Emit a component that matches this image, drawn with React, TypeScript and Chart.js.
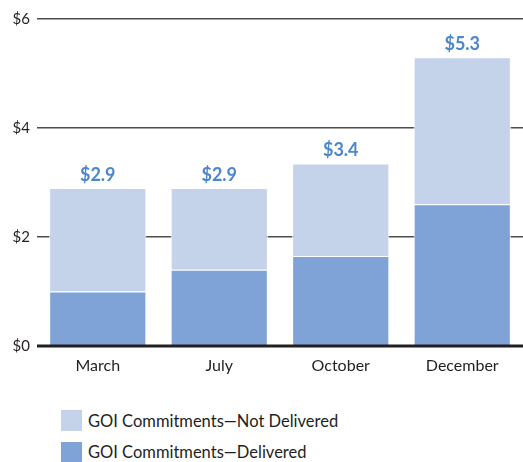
import React, { useEffect, useRef } from "react";
import { Chart, registerables } from "chart.js";

Chart.register(...registerables);

const categories = ["March", "July", "October", "December"];
const delivered = [1.0, 1.4, 1.65, 2.6];
const notDelivered = [1.9, 1.5, 1.7, 2.7];
const totalLabels = ["$2.9", "$2.9", "$3.4", "$5.3"];
const yTicks = [0, 2, 4, 6];
const seriesNames = ["GOI Commitments\u2014Not Delivered", "GOI Commitments\u2014Delivered"];

const LIGHT = "#c4d2ea";
const DARK = "#7fa3d6";
const TEXT = "#231f20";
const LABEL_BLUE = "#4b87c9";
const FONT = "Lato, 'Liberation Sans', sans-serif";

export default function App() {
  const ref = useRef<HTMLCanvasElement | null>(null);

  useEffect(() => {
    document.body.style.margin = "0";
    const totalsPlugin = {
      id: "totals",
      afterDatasetsDraw(chart: any) {
        const ctx = chart.ctx;
        const y = chart.scales.y;
        ctx.save();
        ctx.strokeStyle = "#231f20";
        ctx.lineWidth = 3;
        const y0 = y.getPixelForValue(0);
        ctx.beginPath();
        ctx.moveTo(chart.chartArea.left, y0);
        ctx.lineTo(chart.chartArea.right, y0);
        ctx.stroke();
        const meta = chart.getDatasetMeta(1);
        ctx.fillStyle = LABEL_BLUE;
        ctx.font = `bold 18px ${FONT}`;
        ctx.textAlign = "center";
        ctx.textBaseline = "bottom";
        meta.data.forEach((bar: any, i: number) => {
          ctx.fillText(totalLabels[i], bar.x, bar.y - 4);
        });
        ctx.restore();
      },
    };

    const chart = new Chart(ref.current as HTMLCanvasElement, {
      type: "bar",
      data: {
        labels: categories,
        datasets: [
          {
            label: seriesNames[1],
            data: delivered,
            backgroundColor: DARK,
            borderColor: "#ffffff",
            borderWidth: 1,
            categoryPercentage: 0.8,
            barPercentage: 1,
          },
          {
            label: seriesNames[0],
            data: notDelivered,
            backgroundColor: LIGHT,
            borderColor: "#ffffff",
            borderWidth: 1,
            categoryPercentage: 0.8,
            barPercentage: 1,
          },
        ],
      },
      options: {
        animation: false,
        responsive: false,
        maintainAspectRatio: false,
        layout: { padding: { top: 19, right: 0, left: 0, bottom: 0 } },
        plugins: { legend: { display: false }, tooltip: { enabled: false } },
        scales: {
          x: {
            stacked: true,
            grid: { display: false },
            border: { display: false },
            afterFit(axis: any) {
              axis.height = 34;
            },
            ticks: { color: TEXT, font: { family: FONT, size: 16 }, padding: 2 },
          },
          y: {
            stacked: true,
            min: 0,
            max: 6,
            afterBuildTicks(axis: any) {
              axis.ticks = yTicks.map((v) => ({ value: v }));
            },
            afterFit(axis: any) {
              axis.width = 37;
            },
            grid: {
              drawTicks: false,
              color: (c: any) => (c.tick && c.tick.value === 0 ? "rgba(0,0,0,0)" : "#4d4d4d"),
              lineWidth: 1.5,
            },
            border: { display: false },
            ticks: {
              color: TEXT,
              font: { family: FONT, size: 15 },
              padding: 7,
              callback: (v: any) => "$" + v,
            },
          },
        },
      },
      plugins: [totalsPlugin],
    });
    return () => chart.destroy();
  }, []);

  const colors = [LIGHT, DARK];
  return (
    <div style={{ position: "relative", width: 523, height: 462, fontFamily: FONT }}>
      <canvas ref={ref} width={523} height={380} style={{ display: "block" }} />
      {seriesNames.map((name, i) => (
        <div
          key={name}
          style={{
            position: "absolute",
            left: 61,
            top: 410 + i * 31.5,
            display: "flex",
            alignItems: "center",
            color: TEXT,
            fontSize: 16.5,
            whiteSpace: "nowrap",
          }}
        >
          <span style={{ display: "inline-block", width: 21, height: 21, background: colors[i], marginRight: 6 }} />
          {name}
        </div>
      ))}
    </div>
  );
}
